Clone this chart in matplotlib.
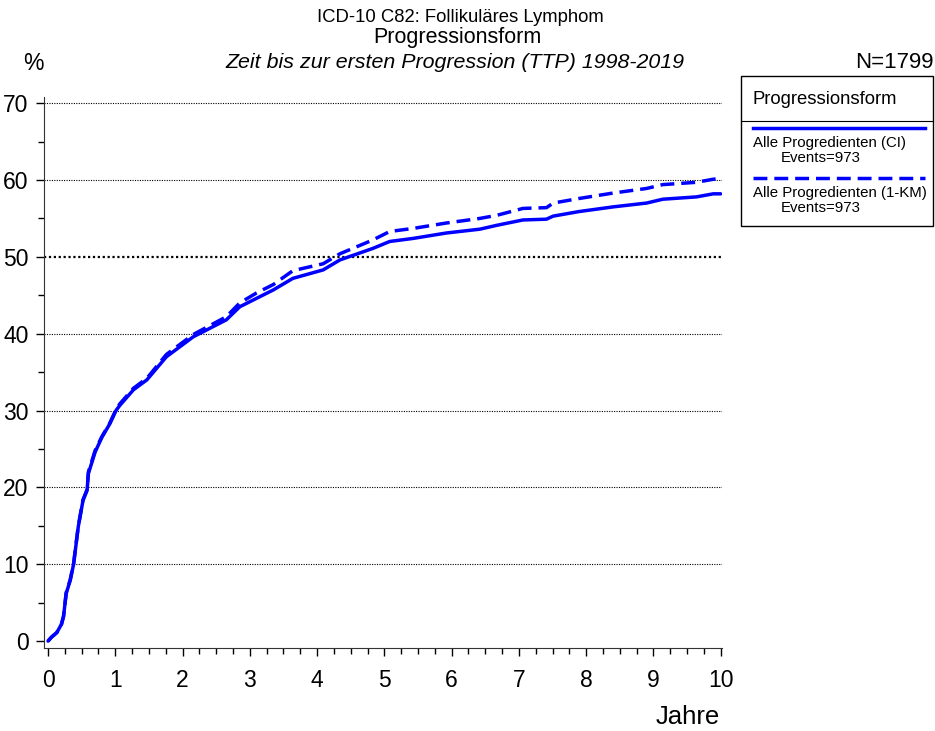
import matplotlib
matplotlib.use('Agg')
import matplotlib.pyplot as plt
from matplotlib.lines import Line2D
from matplotlib.patches import Rectangle
from matplotlib.transforms import Bbox, TransformedBbox

plt.rcParams['font.family'] = ['Liberation Sans', 'DejaVu Sans']

# Kumulative Inzidenz (CI)
ci_t = [0, 0.05, 0.13, 0.2, 0.23, 0.27, 0.33, 0.38, 0.45, 0.52, 0.58, 0.6, 0.7, 0.8,
        0.92, 1.01, 1.07, 1.27, 1.47, 1.76, 2.16, 2.65, 2.85, 3.1, 3.35, 3.64, 4.09,
        4.34, 4.83, 5.08, 5.43, 5.92, 6.42, 6.67, 7.06, 7.41, 7.51, 7.9, 8.4, 8.9,
        9.14, 9.64, 9.89, 10]
ci_v = [0, 0.5, 1.1, 2.2, 3.2, 6.2, 7.9, 10, 14.9, 18.3, 19.6, 21.8, 24.6, 26.5,
        28.3, 30, 30.7, 32.7, 34, 37, 39.6, 41.8, 43.5, 44.6, 45.7, 47.2, 48.3,
        49.6, 51.1, 52.0, 52.4, 53.1, 53.6, 54.1, 54.8, 54.9, 55.3, 55.9, 56.5, 57.0,
        57.5, 57.8, 58.2, 58.2]

# 1-KM
km_t = ci_t
km_v = [0, 0.5, 1.1, 2.2, 3.2, 6.3, 8.0, 10.1, 15, 18.4, 19.7, 22, 24.8, 26.6,
        28.4, 30.1, 30.9, 32.9, 34.2, 37.3, 39.9, 42.2, 44.0, 45.3, 46.4, 48.2, 49.1,
        50.4, 52.2, 53.3, 53.7, 54.4, 55.0, 55.4, 56.3, 56.4, 57.0, 57.6, 58.3, 58.9,
        59.4, 59.7, 60.1, 60.2]

legend_labels = ['Alle Progredienten (CI)', 'Alle Progredienten (1-KM)']
events = [973, 973]
n_total = 1799

fig = plt.figure(figsize=(9.35, 7.31), dpi=100)
ax = fig.add_axes([44 / 935, 83 / 731, 678 / 935, 551 / 731])

blue = '#0000ff'
ax.plot(ci_t, ci_v, color=blue, lw=2.5, solid_capstyle='round', zorder=3)
ax.plot(km_t, km_v, color=blue, lw=2.5, ls=(0, (4, 2)), zorder=3)

for g in range(10, 71, 10):
    ax.axhline(g, color='black', ls=(0, (1, 1.2)), lw=1.6 if g == 50 else 0.8, zorder=1)

ax.set_xlim(-0.06, 10.02)
ax.set_ylim(-0.9, 70.8)
ax.set_xticks(range(0, 11))
ax.set_xticks([i * 0.25 for i in range(41)], minor=True)
ax.set_yticks(range(0, 71, 10))
ax.set_yticks(range(0, 71, 5), minor=True)
ax.tick_params(labelsize=16.5, length=6, width=1, direction='out', pad=5)
ax.tick_params(which='minor', length=4, width=1)
ax.tick_params(axis='x', pad=9)
for s in ['top', 'right']:
    ax.spines[s].set_visible(False)
ax.spines['left'].set_color('#333333')
ax.spines['bottom'].set_color('#333333')

fig.text(460 / 935, 1 - 18 / 731, 'ICD-10 C82: Follikuläres Lymphom', ha='center', va='center', fontsize=13.3)
fig.text(457 / 935, 1 - 38 / 731, 'Progressionsform', ha='center', va='center', fontsize=15.5)
fig.text(455 / 935, 1 - 62 / 731, 'Zeit bis zur ersten Progression (TTP) 1998-2019', ha='center',
         va='center', fontsize=15.4, style='italic')
fig.text(33 / 935, 1 - 64 / 731, '%', ha='center', va='center', fontsize=16.5)
fig.text(934 / 935, 1 - 62 / 731, 'N=%d' % n_total, ha='right', va='center', fontsize=16)
fig.text(720 / 935, 1 - 717 / 731, 'Jahre', ha='right', va='center', fontsize=18.5)

# Legende als Kasten
W, H = 935, 731
fig.patches.append(Rectangle((741 / W, 1 - 226 / H), 192 / W, 150 / H, transform=fig.transFigure,
                             fill=False, edgecolor='black', lw=1))
fig.lines.append(Line2D([741 / W, 933 / W], [1 - 121 / H, 1 - 121 / H], transform=fig.transFigure,
                        color='black', lw=0.8))
fig.text(753 / W, 1 - 99 / H, 'Progressionsform', ha='left', va='center', fontsize=13.3)
clip = TransformedBbox(Bbox([[741 / W, 1 - 226 / H], [932 / W, 1 - 76 / H]]), fig.transFigure)
styles = ['-', (0, (4, 2))]
ys = [128, 178]
for lab, ev, st, y in zip(legend_labels, events, styles, ys):
    fig.lines.append(Line2D([753 / W, 925 / W], [1 - y / H, 1 - y / H], transform=fig.transFigure,
                            color=blue, lw=2.5, ls=st))
    t = fig.text(753 / W, 1 - (y + 19.5) / H, lab, ha='left', va='baseline', fontsize=10.8)
    t.set_clip_box(clip)
    t.set_clip_on(True)
    fig.text(781 / W, 1 - (y + 34) / H, 'Events=%d' % ev, ha='left', va='baseline', fontsize=10.8)

fig.savefig('out.png', dpi=100)
